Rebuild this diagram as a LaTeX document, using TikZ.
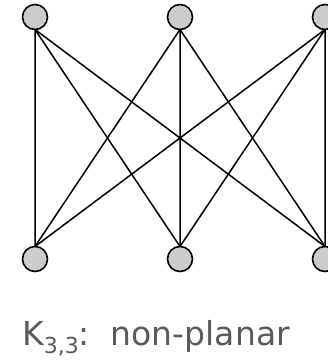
\documentclass[tikz,border=0pt]{standalone}
\usepackage{fontspec}
\setmainfont{DejaVu Sans}
\usepackage{tikz}
\usetikzlibrary{positioning}
\definecolor{VXgrey}{RGB}{204,204,204}
\definecolor{TXgrey}{RGB}{90,90,90}

\begin{document}
\begin{tikzpicture}[
      x=1pt,y=-1pt,
      node distance=217pt and 120pt,
      vert/.style={circle,draw,line width=1.6pt,fill=VXgrey,minimum size=25pt,inner sep=0pt,outer sep=0pt},
      edge/.style={line width=1.5pt}
    ]
    \useasboundingbox (0,0) rectangle (328,361);
    \node[vert] (t1) at (35,17) {};
    \node[vert,right=of t1] (t2) {};
    \node[vert,right=of t2] (t3) {};
    \node[vert,below=of t1] (b1) {};
    \node[vert,below=of t2] (b2) {};
    \node[vert,below=of t3] (b3) {};
    \draw[edge] (t1.south) -- (b1.north) (t1.south) -- (b2.north) (t1.south) -- (b3.north);
    \draw[edge] (t2.south) -- (b1.north) (t2.south) -- (b2.north) (t2.south) -- (b3.north);
    \draw[edge] (t3.south) -- (b1.north) (t3.south) -- (b2.north) (t3.south) -- (b3.north);
    \node[text=TXgrey,font=\fontsize{33}{33}\selectfont,anchor=base] (cap) at (156,345)
      {K\raisebox{-.45ex}{\fontsize{22}{22}\selectfont 3,3}:\ \ non-planar};
  \end{tikzpicture}
\end{document}
